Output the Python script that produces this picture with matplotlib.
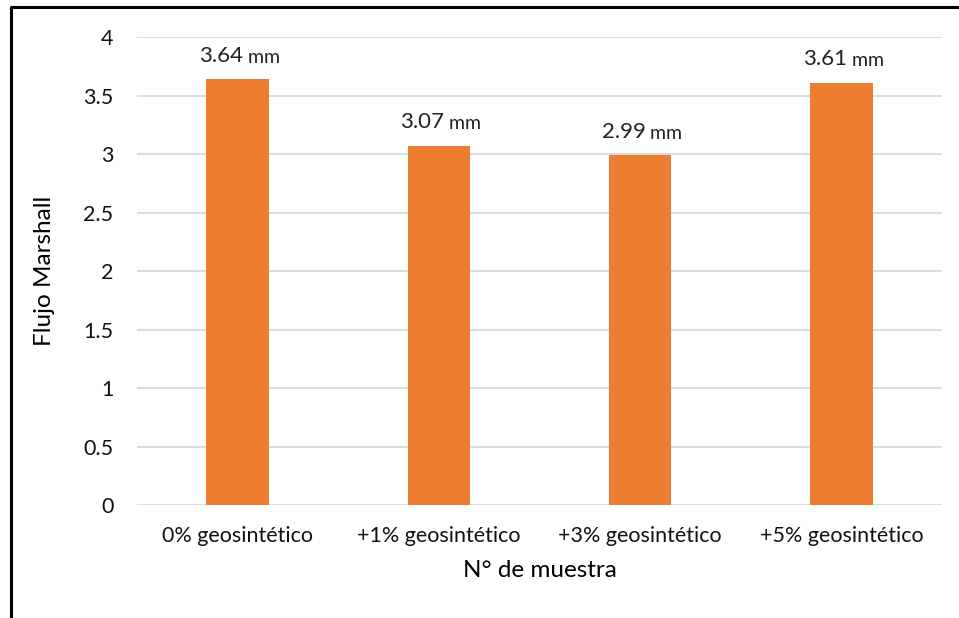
import matplotlib.pyplot as plt
from matplotlib.lines import Line2D

plt.rcParams['font.family'] = ['Lato', 'DejaVu Sans']

# Data
categories = ['0% geosintético', '+1% geosintético', '+3% geosintético', '+5% geosintético']
flujo = [3.64, 3.07, 2.99, 3.61]
labels = ['3.64', '3.07', '2.99', '3.61']

fig = plt.figure(figsize=(9.59, 6.18), dpi=100)
ax = fig.add_axes([0.1429, 0.1828, 0.8394, 0.7573])

x = range(len(categories))
ax.bar(x, flujo, width=0.31, color='#ED7D31', zorder=3)

# data labels: number + smaller unit
for xi, v, lab in zip(x, flujo, labels):
    t = ax.annotate(lab, xy=(xi, v), xytext=(-12, 17), textcoords='offset points',
                    ha='center', va='center', fontsize=16, color='#222222')
    ax.annotate(' mm', xy=(1, 0), xycoords=t, xytext=(0, 0), textcoords='offset points',
                ha='left', va='bottom', fontsize=14, color='#222222')

ax.set_ylim(0, 4)
ax.set_yticks([0, 0.5, 1, 1.5, 2, 2.5, 3, 3.5, 4])
ax.set_yticklabels(['0', '0.5', '1', '1.5', '2', '2.5', '3', '3.5', '4'])
ax.set_xlim(-0.5, 3.5)
ax.set_xticks(list(x))
ax.set_xticklabels(categories)
ax.tick_params(axis='both', length=0, labelsize=15.5, colors='#111111')
ax.tick_params(axis='y', pad=17)
ax.tick_params(axis='x', pad=15)

ax.grid(axis='y', color='#d9d9d9', linewidth=1.3, zorder=0)
for s in ax.spines.values():
    s.set_visible(False)

ax.set_ylabel('Flujo Marshall', fontsize=17.5, labelpad=20)
ax.set_xlabel('N° de muestra', fontsize=17.5, labelpad=10)

# outer frame (left and top only)
fig.add_artist(Line2D([10.5 / 959, 10.5 / 959, 1.0], [0.0, 1 - 7 / 618, 1 - 7 / 618],
                      transform=fig.transFigure, color='black', linewidth=2.2))

fig.savefig('out.png', dpi=100)
